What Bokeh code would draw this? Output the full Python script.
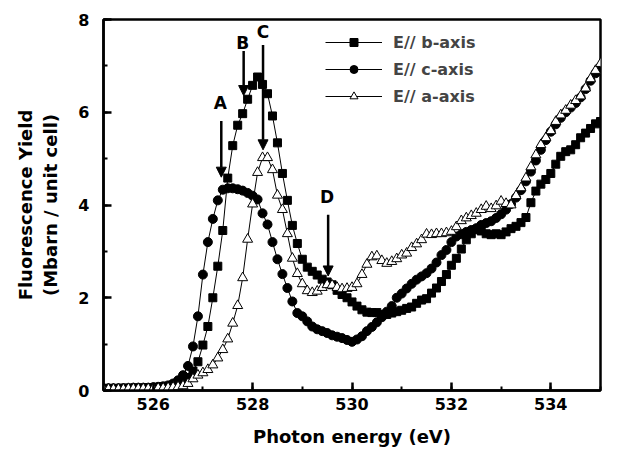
from bokeh.plotting import figure
from bokeh.models import Range1d, SingleIntervalTicker, Arrow, NormalHead, Legend
from bokeh.core.properties import value
from bokeh.embed import file_html
from bokeh.resources import INLINE

energy = [525.0, 525.1, 525.2, 525.3, 525.4, 525.5, 525.6, 525.7, 525.8, 525.9,
          526.0, 526.1, 526.2, 526.3, 526.4, 526.5, 526.6, 526.7, 526.8, 526.9,
          527.0, 527.1, 527.2, 527.3, 527.4, 527.5, 527.6, 527.7, 527.8, 527.9,
          528.0, 528.1, 528.2, 528.3, 528.4, 528.5, 528.6, 528.7, 528.8, 528.9,
          529.0, 529.1, 529.2, 529.3, 529.4, 529.5, 529.6, 529.7, 529.8, 529.9,
          530.0, 530.1, 530.2, 530.3, 530.4, 530.5, 530.6, 530.7, 530.8, 530.9,
          531.0, 531.1, 531.2, 531.3, 531.4, 531.5, 531.6, 531.7, 531.8, 531.9,
          532.0, 532.1, 532.2, 532.3, 532.4, 532.5, 532.6, 532.7, 532.8, 532.9,
          533.0, 533.1, 533.2, 533.3, 533.4, 533.5, 533.6, 533.7, 533.8, 533.9,
          534.0, 534.1, 534.2, 534.3, 534.4, 534.5, 534.6, 534.7, 534.8, 534.9,
          535.0]

b_axis = [0.04, 0.04, 0.04, 0.04, 0.05, 0.05, 0.05, 0.05, 0.05, 0.06,
          0.06, 0.07, 0.08, 0.09, 0.11, 0.14, 0.19, 0.28, 0.42, 0.62,
          0.98, 1.38, 2.00, 2.68, 3.45, 4.58, 5.28, 5.72, 5.97, 6.28,
          6.58, 6.76, 6.60, 6.40, 5.92, 5.34, 4.68, 4.10, 3.56, 3.17,
          2.83, 2.66, 2.57, 2.49, 2.40, 2.34, 2.28, 2.16, 2.07, 2.00,
          1.91, 1.82, 1.74, 1.69, 1.68, 1.68, 1.64, 1.64, 1.67, 1.70,
          1.73, 1.77, 1.80, 1.88, 1.95, 1.98, 2.10, 2.21, 2.35, 2.50,
          2.70, 2.85, 3.05, 3.25, 3.38, 3.47, 3.44, 3.38, 3.36, 3.38,
          3.36, 3.42, 3.49, 3.54, 3.62, 3.73, 4.05, 4.30, 4.45, 4.55,
          4.68, 4.88, 5.05, 5.15, 5.19, 5.30, 5.45, 5.55, 5.65, 5.75,
          5.80]

c_axis = [0.05, 0.05, 0.05, 0.05, 0.05, 0.05, 0.06, 0.06, 0.06, 0.06,
          0.07, 0.08, 0.09, 0.11, 0.15, 0.22, 0.33, 0.53, 0.95, 1.60,
          2.50, 3.20, 3.70, 4.10, 4.33, 4.36, 4.36, 4.34, 4.31, 4.26,
          4.20, 4.12, 3.82, 3.58, 3.20, 2.83, 2.51, 2.21, 1.92, 1.67,
          1.60, 1.49, 1.38, 1.32, 1.28, 1.24, 1.19, 1.16, 1.13, 1.09,
          1.05, 1.10, 1.17, 1.28, 1.37, 1.47, 1.58, 1.70, 1.82, 2.00,
          2.09, 2.20, 2.30, 2.39, 2.46, 2.53, 2.63, 2.76, 2.92, 3.03,
          3.20, 3.32, 3.37, 3.42, 3.46, 3.50, 3.57, 3.61, 3.65, 3.72,
          3.80, 3.90, 4.02, 4.16, 4.32, 4.51, 4.72, 4.96, 5.19, 5.40,
          5.58, 5.74, 5.88, 6.00, 6.10, 6.20, 6.32, 6.50, 6.68, 6.84,
          6.98]

a_axis = [0.03, 0.03, 0.03, 0.03, 0.03, 0.04, 0.04, 0.04, 0.04, 0.04,
          0.04, 0.05, 0.05, 0.06, 0.07, 0.08, 0.10, 0.15, 0.25, 0.33,
          0.38, 0.45, 0.55, 0.70, 0.88, 1.11, 1.45, 1.83, 2.43, 3.26,
          4.02, 4.70, 5.02, 5.02, 4.76, 4.21, 3.90, 3.38, 2.85, 2.52,
          2.30, 2.15, 2.11, 2.14, 2.22, 2.28, 2.27, 2.22, 2.19, 2.20,
          2.22, 2.30, 2.50, 2.72, 2.88, 2.90, 2.80, 2.74, 2.78, 2.84,
          2.92, 2.96, 3.08, 3.16, 3.25, 3.37, 3.36, 3.38, 3.38, 3.40,
          3.43, 3.53, 3.66, 3.72, 3.77, 3.82, 3.90, 3.97, 3.92, 3.98,
          4.08, 4.03, 4.00, 4.20, 4.37, 4.58, 4.82, 5.08, 5.30, 5.45,
          5.60, 5.80, 5.94, 6.04, 6.15, 6.25, 6.35, 6.52, 6.72, 6.90,
          7.05]

series_labels = ["E// b-axis", "E// c-axis", "E// a-axis"]

# peak annotations: letter, letter position, arrow start/end
ann_letters = ["A", "B", "C", "D"]
ann_text_x = [527.35, 527.80, 528.21, 529.50]
ann_text_y = [6.20, 7.50, 7.72, 4.17]
ann_arrow_x = [527.37, 527.82, 528.21, 529.52]
ann_arrow_y0 = [5.81, 7.32, 7.45, 3.79]
ann_arrow_y1 = [4.60, 6.36, 5.19, 2.47]

FONT = "DejaVu Sans"

p = figure(width=602, height=450, output_backend="svg", toolbar_location=None,
           x_range=Range1d(525, 535), y_range=Range1d(0, 8),
           min_border_left=103, min_border_right=2, min_border_top=19,
           min_border_bottom=60)
p.background_fill_color = "white"
p.border_fill_color = "white"
p.xgrid.visible = False
p.ygrid.visible = False
p.outline_line_color = "black"
p.outline_line_width = 2.5

p.xaxis.ticker = SingleIntervalTicker(interval=2, num_minor_ticks=2)
p.yaxis.ticker = SingleIntervalTicker(interval=2, num_minor_ticks=2)
for ax in (p.xaxis, p.yaxis):
    ax.axis_line_width = 2.5
    ax.axis_line_color = "black"
    ax.major_tick_in = 8
    ax.major_tick_out = 0
    ax.minor_tick_in = 4
    ax.minor_tick_out = 0
    ax.major_tick_line_width = 2.5
    ax.minor_tick_line_width = 2
    ax.major_label_text_font = FONT
    ax.major_label_text_font_style = "bold"
    ax.major_label_text_font_size = "16px"
    ax.major_label_text_color = "black"
    ax.axis_label_text_font = FONT
    ax.axis_label_text_font_style = "bold"
    ax.axis_label_text_font_size = "18px"
    ax.axis_label_text_color = "black"

p.xaxis.axis_label = "Photon energy (eV)"
p.yaxis.axis_label = "Fluorescence Yield\n(Mbarn / unit cell)"
p.xaxis.major_label_standoff = 7
p.yaxis.major_label_standoff = 14
p.xaxis.axis_label_standoff = 13
p.yaxis.axis_label_standoff = 14

# series
r_b_line = p.line(energy, b_axis, line_color="black", line_width=1)
r_b_pts = p.scatter(energy, b_axis, marker="square", size=8,
                    fill_color="black", line_color="black")
r_c_line = p.line(energy, c_axis, line_color="black", line_width=1)
r_c_pts = p.scatter(energy, c_axis, marker="circle", size=9,
                    fill_color="black", line_color="black")
r_a_line = p.line(energy, a_axis, line_color="black", line_width=1)
r_a_pts = p.scatter(energy, a_axis, marker="triangle", size=10,
                    fill_color="white", line_color="black", line_width=1)

legend = Legend(items=[(series_labels[0], [r_b_line, r_b_pts]),
                       (series_labels[1], [r_c_line, r_c_pts]),
                       (series_labels[2], [r_a_line, r_a_pts])],
                location=(222, 284))
legend.glyph_width = 57
legend.glyph_height = 20
legend.label_height = 20
legend.spacing = 7
legend.padding = 0
legend.margin = 0
legend.label_standoff = 11
legend.label_text_font = FONT
legend.label_text_font_style = "bold"
legend.label_text_font_size = "16px"
legend.background_fill_alpha = 0
legend.border_line_alpha = 0
p.add_layout(legend, "center")

# annotations
p.text(ann_text_x, ann_text_y, text=ann_letters, text_font=value(FONT),
       text_font_style="bold", text_font_size="17px", text_align="center",
       text_baseline="middle", text_color="black")
for i in range(len(ann_letters)):
    p.add_layout(Arrow(end=NormalHead(size=10, fill_color="black", line_color="black"),
                       x_start=ann_arrow_x[i], y_start=ann_arrow_y0[i],
                       x_end=ann_arrow_x[i], y_end=ann_arrow_y1[i],
                       line_width=2.5, line_color="black"))

open("out.html", "w").write(file_html(p, INLINE))
